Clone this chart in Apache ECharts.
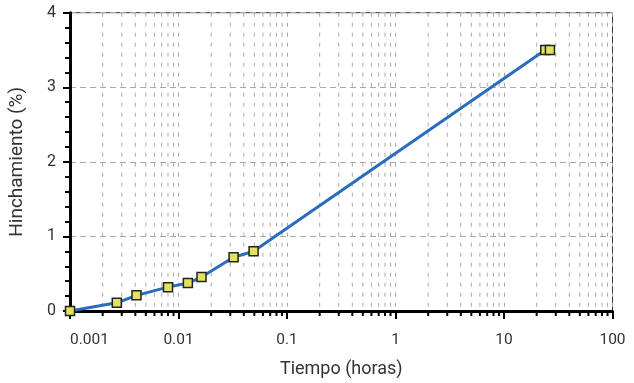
<!DOCTYPE html>
<html>
<head>
<meta charset="utf-8">
<script src="https://cdn.jsdelivr.net/npm/echarts@6/dist/echarts.min.js"></script>
<style>html,body{margin:0;padding:0;background:#fff}#c{width:634px;height:383px}</style>
</head>
<body>
<div id="c"></div>
<script>
// Data
var tiempo = [0.001, 0.0027, 0.0041, 0.008, 0.0122, 0.0163, 0.0322, 0.0492, 24, 26.5];
var hinchamiento = [0, 0.11, 0.21, 0.32, 0.375, 0.455, 0.72, 0.80, 3.5, 3.5];
var xTicks = [0.001, 0.01, 0.1, 1, 10, 100];
var yTicks = [0, 1, 2, 3, 4];

// minor log positions (2..9 per decade)
var minorX = [];
for (var d = 0; d < xTicks.length - 1; d++) {
  for (var k = 2; k <= 9; k++) minorX.push(+(xTicks[d] * k).toPrecision(3));
}

var chart = echarts.init(document.getElementById('c'), null, {renderer: 'canvas'});
var gridDash = '#a8a8a8';
chart.setOption({
  animation: false,
  backgroundColor: '#fff',
  grid: {left: 69.5, right: 21.5, top: 12.7, bottom: 72, show: true, borderColor: '#333', borderWidth: 1},
  xAxis: {
    type: 'log', logBase: 10, min: xTicks[0], max: xTicks[xTicks.length - 1],
    name: 'Tiempo (horas)', nameLocation: 'middle', nameGap: 49,
    nameTextStyle: {fontFamily: 'Roboto', fontSize: 18, color: '#333'},
    axisLine: {lineStyle: {color: '#000', width: 3}},
    axisTick: {show: true, inside: false, length: 8, lineStyle: {color: '#000', width: 2}},
    axisLabel: {fontFamily: 'Roboto', fontSize: 15.5, color: '#333', margin: 21, alignMinLabel: 'left',
      formatter: function (v) { return String(+v.toPrecision(3)); }},
    splitLine: {show: true, lineStyle: {color: gridDash, type: [4, 6], width: 1}}
  },
  yAxis: {
    type: 'value', min: yTicks[0], max: yTicks[yTicks.length - 1], interval: 1,
    name: 'Hinchamiento (%)', nameLocation: 'middle', nameGap: 43,
    nameTextStyle: {fontFamily: 'Roboto', fontSize: 19, color: '#333'},
    axisLine: {show: true, lineStyle: {color: '#000', width: 3}},
    axisTick: {show: true, length: 7, lineStyle: {color: '#000', width: 2}},
    minorTick: {show: true, splitNumber: 5, length: 5, lineStyle: {color: '#000', width: 2}},
    axisLabel: {fontFamily: 'Roboto', fontSize: 16, color: '#333', margin: 14},
    splitLine: {show: true, lineStyle: {color: gridDash, type: [6, 4], width: 1}}
  },
  series: [
    {
      type: 'custom',
      silent: true,
      z: 1,
      data: minorX.map(function (v) { return [v]; }),
      renderItem: function (params, api) {
        var top = api.coord([api.value(0), yTicks[yTicks.length - 1]]);
        var bot = api.coord([api.value(0), yTicks[0]]);
        return {
          type: 'group',
          children: [
            {type: 'line', shape: {x1: top[0], y1: top[1], x2: bot[0], y2: bot[1]},
             style: {stroke: gridDash, lineWidth: 1, lineDash: [4, 6]}},
            {type: 'line', shape: {x1: bot[0], y1: bot[1], x2: bot[0], y2: bot[1] + 5},
             style: {stroke: '#000', lineWidth: 2}}
          ]
        };
      }
    },
    {
      type: 'line',
      z: 5,
      data: tiempo.map(function (t, i) { return [t, hinchamiento[i]]; }),
      smooth: false,
      symbol: 'rect',
      symbolSize: 9,
      showAllSymbol: true,
      lineStyle: {color: '#2b6cbf', width: 3},
      itemStyle: {color: '#e3e35a', borderColor: '#222', borderWidth: 1.5}
    }
  ]
});
</script>
</body>
</html>
